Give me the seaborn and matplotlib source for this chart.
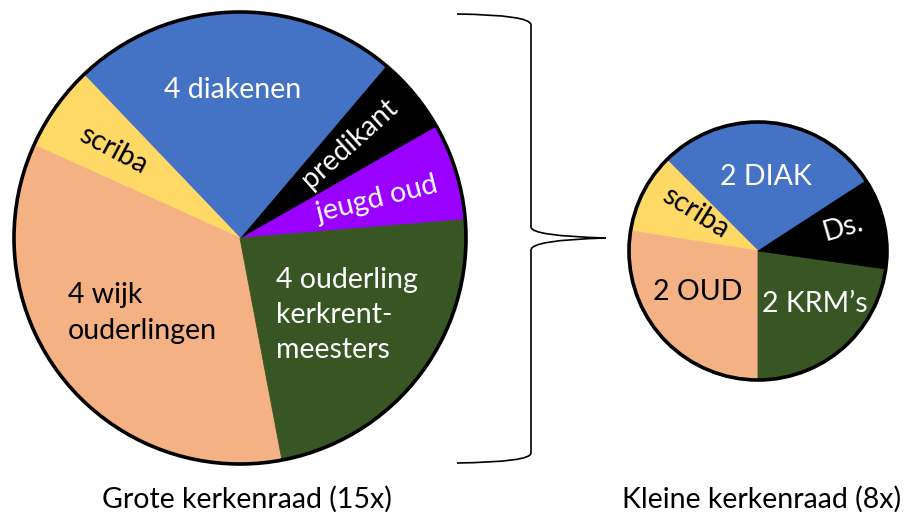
import matplotlib
matplotlib.use("Agg")
import matplotlib.pyplot as plt
from matplotlib.patches import Circle, PathPatch
from matplotlib.path import Path
import seaborn as sns

# slice sizes in degrees (the slices are not drawn to scale)
groot_labels = ["jeugd oud", "predikant", "4 diakenen", "scriba",
                "4 wijk\nouderlingen", "4 ouderling\nkerkrent-\nmeesters"]
groot_deg = [25, 20, 84, 22, 125, 84]
groot_colors = ["#9900FF", "#000000", "#4472C4", "#FFD966", "#F4B183", "#375623"]

klein_labels = ["2 DIAK", "scriba", "2 OUD", "2 KRM\u2019s", "Ds."]
klein_deg = [102, 36, 99, 82, 41]
klein_colors = ["#4472C4", "#FFD966", "#F4B183", "#375623", "#000000"]

titles = ["Grote kerkenraad (15x)", "Kleine kerkenraad (8x)"]

# label placement in pixels from top-left: x, y, rotation, text colour, alignment
groot_pos = [(377, 199, 14, "white", "center"),
             (350, 143, 42, "white", "center"),
             (233, 90, 0, "white", "center"),
             (113, 150, -28, "black", "center"),
             (68, 313, 0, "black", "left"),
             (276, 315, 0, "white", "left")]
klein_pos = [(766, 177, 0, "white", "center"),
             (695, 213, -32, "black", "center"),
             (698, 292, 0, "black", "center"),
             (815, 304, 0, "white", "center"),
             (843, 228, 16, "white", "center")]

sns.set_theme(style="white")
plt.rcParams['font.family'] = ['Lato', 'DejaVu Sans']

W, H = 908, 518
FS = 20.5
fig = plt.figure(figsize=(W / 100, H / 100), dpi=100)
ax = fig.add_axes([0, 0, 1, 1])


def draw_pie(values, colors, labels, pos, center, radius, start):
    cx, cy = center
    wedges, _ = ax.pie(values, colors=colors, startangle=start,
                       center=(cx, H - cy), radius=radius, frame=True,
                       wedgeprops=dict(linewidth=0.6))
    for w in wedges:
        w.set_edgecolor(w.get_facecolor())
    ax.add_patch(Circle((cx, H - cy), radius, fill=False, ec="black", lw=2.6))
    for lab, (x, y, rot, col, ha) in zip(labels, pos):
        ax.text(x, H - y, lab, color=col, rotation=rot, ha=ha, va="center",
                fontsize=FS, linespacing=1.45, rotation_mode="anchor")


draw_pie(groot_deg, groot_colors, groot_labels, groot_pos, (240, 238), 226, 4.7)
draw_pie(klein_deg, klein_colors, klein_labels, klein_pos, (758, 251), 129, 33)

# curly brace linking the two charts
brace = [(457, 14), (531, 15), (531, 25), (531, 227), (531, 236), (606, 238),
         (531, 240), (531, 250), (531, 453), (531, 462), (457, 463)]
codes = [Path.MOVETO, Path.CURVE3, Path.CURVE3, Path.LINETO, Path.CURVE3, Path.CURVE3,
         Path.CURVE3, Path.CURVE3, Path.LINETO, Path.CURVE3, Path.CURVE3]
ax.add_patch(PathPatch(Path([(x, H - y) for x, y in brace], codes),
                       fill=False, ec="black", lw=1.2))

ax.text(247, H - 499, titles[0], ha="center", va="center", fontsize=FS, color="black")
ax.text(762, H - 499, titles[1], ha="center", va="center", fontsize=FS, color="black")

ax.set_xlim(0, W)
ax.set_ylim(0, H)
ax.set_aspect("equal")
ax.axis("off")

fig.savefig("out.png", dpi=100)
